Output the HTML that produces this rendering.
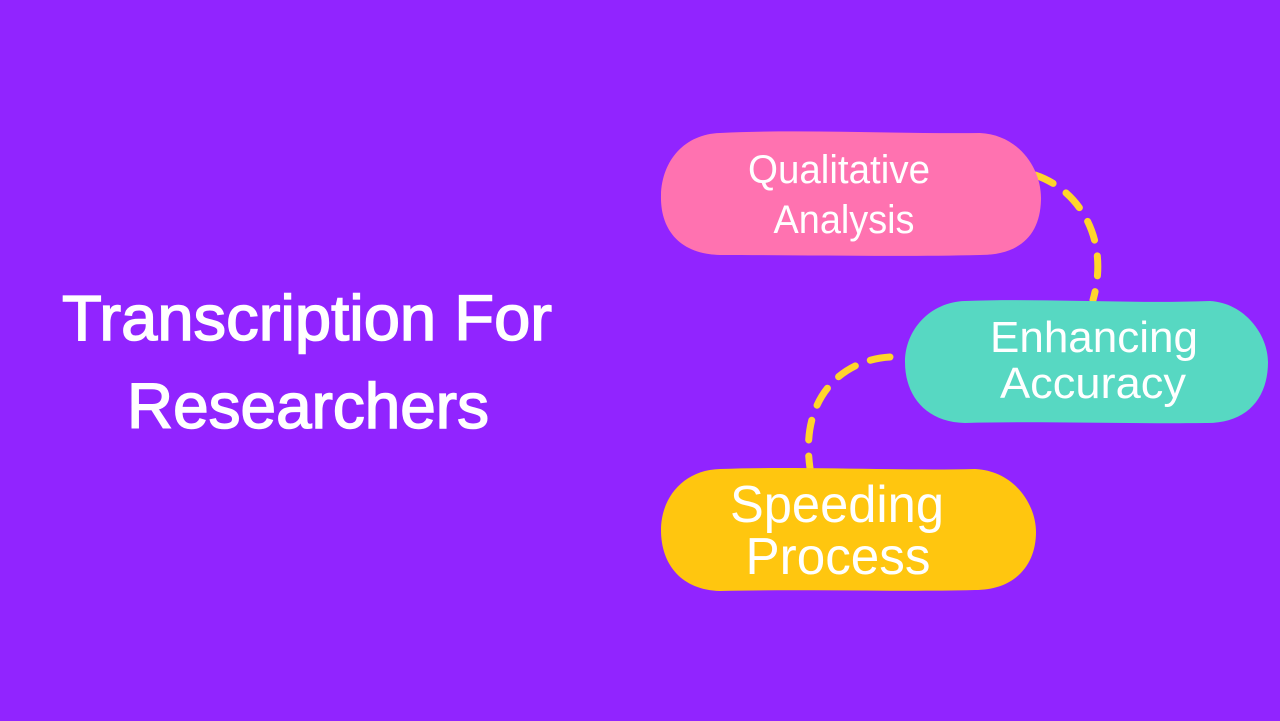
<!DOCTYPE html>
<html><head><meta charset="utf-8"><style>
html,body{margin:0;padding:0;background:#9124FF;}
svg{display:block}
text{font-family:"Liberation Sans Narrow","Liberation Sans",sans-serif;fill:#fff;}
</style></head><body>
<svg width="1280" height="721" viewBox="0 0 1280 721">
<rect width="1280" height="721" fill="#9124FF"/>
<path d="M1035,175 C1080,190 1110,240 1093,300" fill="none" stroke="#FFD52B" stroke-width="7" stroke-linecap="round" stroke-dasharray="20,16"/>
<path d="M890,357 C840,360 800,400 810,468" fill="none" stroke="#FFD52B" stroke-width="7" stroke-linecap="round" stroke-dasharray="20,16"/>
<path d="M720,133 C800,129 900,134 980,133 C1020,135 1042,170 1041,200 C1040,235 1020,255 980,255 C900,257 800,255 720,255 C680,254 660,230 661,195 C662,160 685,134 720,133 Z" fill="#FF72B0"/>
<path d="M965,301 C1040,298 1130,304 1210,301 C1245,303 1268,335 1268,362 C1268,400 1245,424 1205,423 C1130,424 1040,421 965,423 C925,422 905,395 905,362 C905,330 930,302 965,301 Z" fill="#57D8C2"/>
<path d="M720,469 C800,466 900,471 975,469 C1015,471 1036,505 1036,532 C1036,565 1015,590 975,590 C900,592 800,589 720,591 C682,590 661,565 661,530 C661,498 683,470 720,469 Z" fill="#FFC60F"/>
<text x="307" y="340" font-size="64" stroke="#fff" stroke-width="1.5" text-anchor="middle" textLength="490" lengthAdjust="spacingAndGlyphs">Transcription For</text>
<text x="308" y="428" font-size="64" stroke="#fff" stroke-width="1.5" text-anchor="middle" textLength="362" lengthAdjust="spacingAndGlyphs">Researchers</text>
<text x="839" y="183" font-size="40" text-anchor="middle" textLength="182" lengthAdjust="spacingAndGlyphs">Qualitative</text>
<text x="844" y="233" font-size="40" text-anchor="middle" textLength="141" lengthAdjust="spacingAndGlyphs">Analysis</text>
<text x="1094" y="352" font-size="44" text-anchor="middle" textLength="208" lengthAdjust="spacingAndGlyphs">Enhancing</text>
<text x="1093" y="398" font-size="44" text-anchor="middle" textLength="186" lengthAdjust="spacingAndGlyphs">Accuracy</text>
<text x="837" y="522" font-size="52" text-anchor="middle" textLength="214" lengthAdjust="spacingAndGlyphs">Speeding</text>
<text x="838" y="574" font-size="52" text-anchor="middle" textLength="185" lengthAdjust="spacingAndGlyphs">Process</text>
</svg>
</body></html>
